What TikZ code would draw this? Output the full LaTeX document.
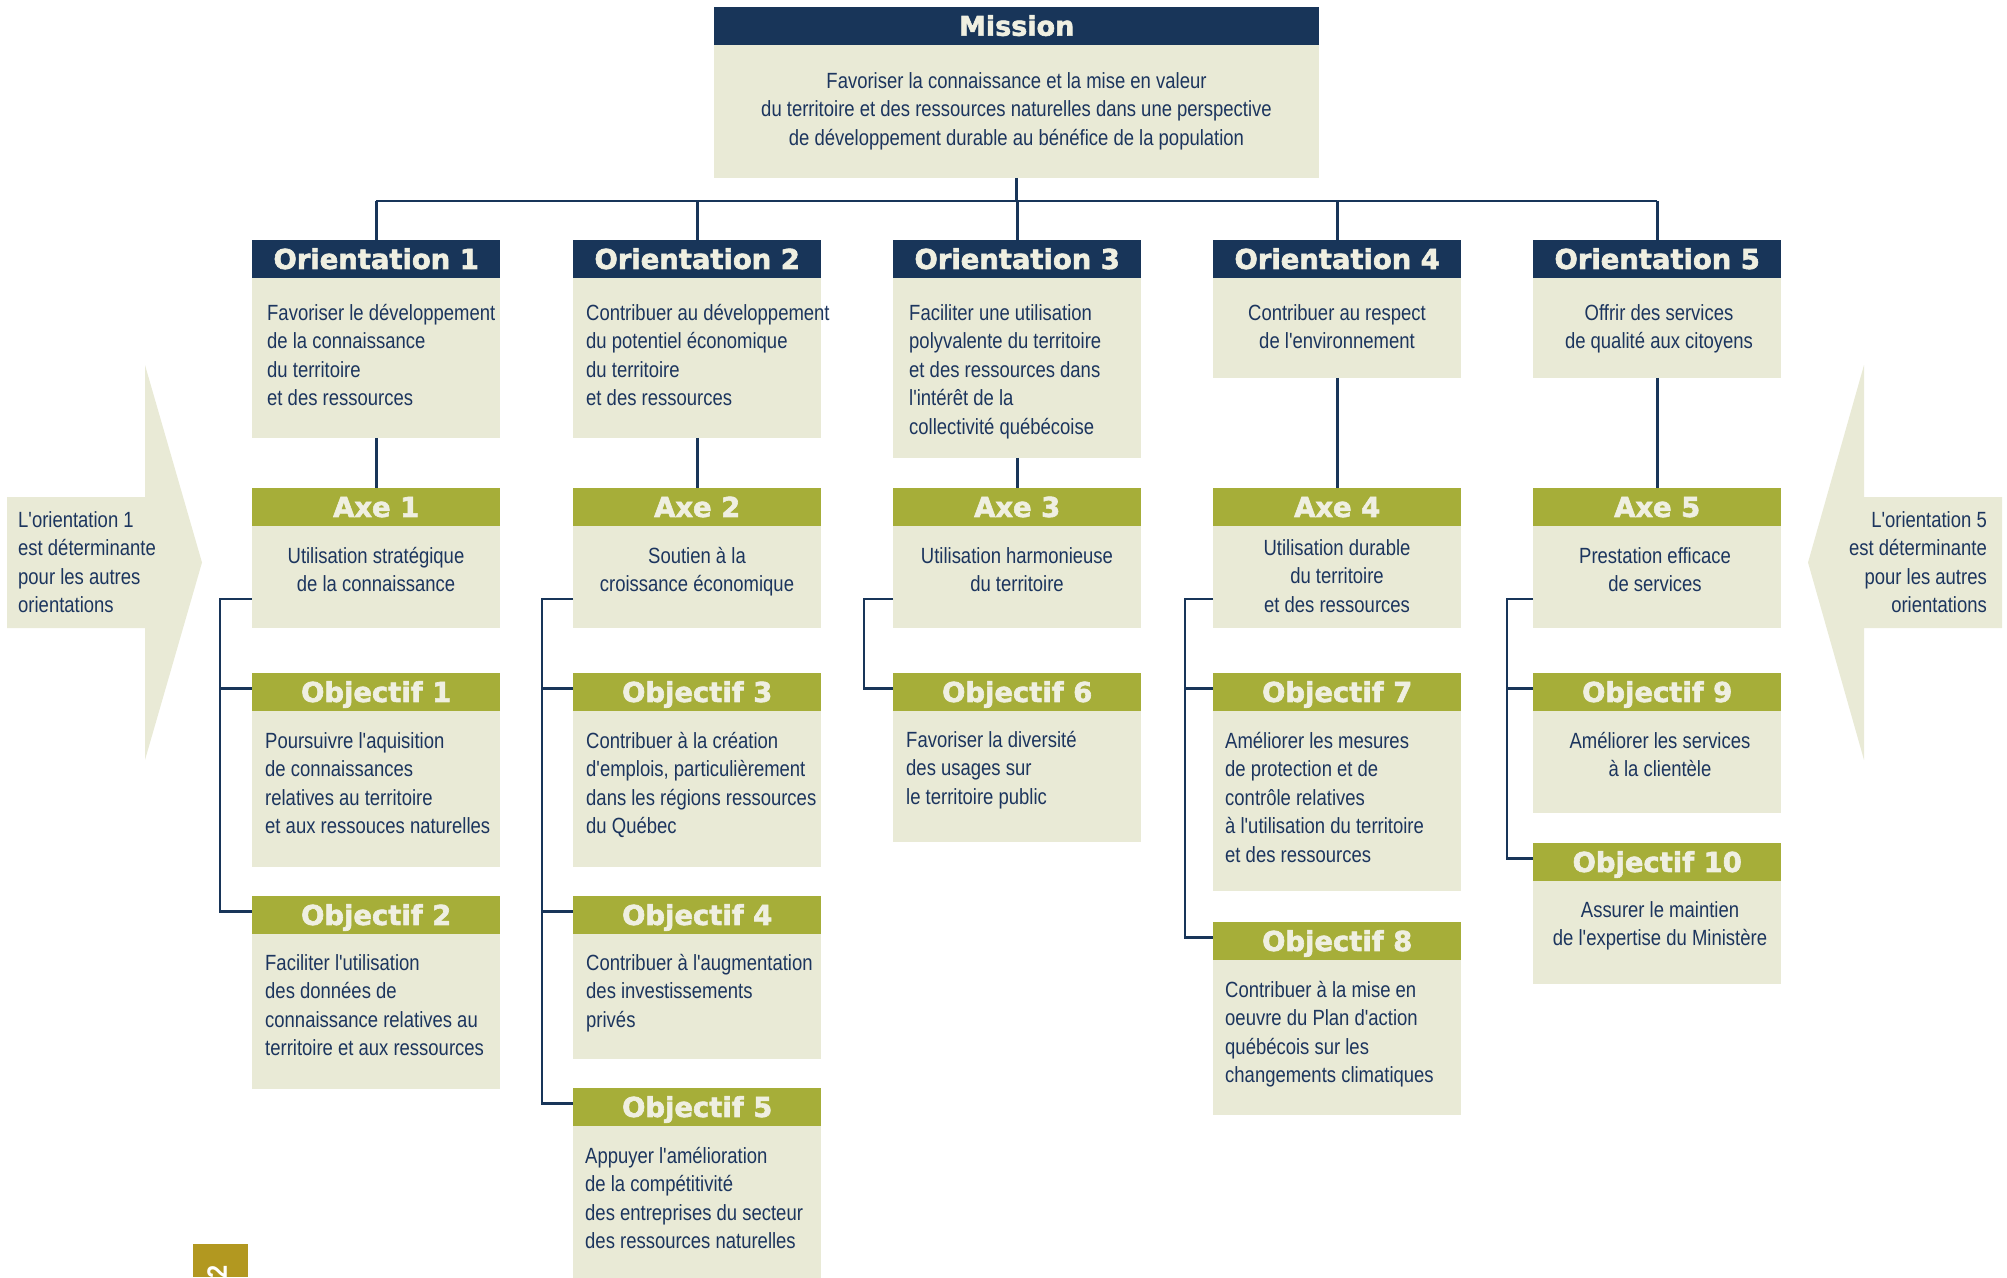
\documentclass[tikz,border=0pt]{standalone}
\usepackage{fontspec}
\newfontfamily\bodyfont{Liberation Sans}[FakeStretch=0.84]
\newfontfamily\headfont{DejaVu Sans}[BoldFeatures={FakeBold=2.2}]
\usetikzlibrary{calc}
\definecolor{navy}{HTML}{183559}
\definecolor{olive}{HTML}{A6AE39}
\definecolor{cream}{HTML}{E9EAD6}
\definecolor{ink}{HTML}{1C355E}
\definecolor{headtxt}{HTML}{EFEFE1}
\definecolor{gold}{HTML}{B29820}
\newcommand\mkcard[6]{%
  \node[hdr, fill=#5] (#1h) at (#2,#3) {#6};
  \node[bodybox, minimum height=#4] (#1b) at (#2,#3+37.5) {};
}
\begin{document}
\begin{tikzpicture}[x=1pt,y=-1pt,
  hdr/.style={rectangle, inner sep=0pt, minimum width=248pt, minimum height=37.5pt, anchor=north west, text=headtxt, text height=20pt, text depth=0pt, font=\headfont\bfseries\fontsize{27.4}{30}\selectfont},
  bodybox/.style={rectangle, inner sep=0pt, minimum width=248pt, anchor=north west, fill=cream},
  tl/.style={inner sep=0pt, anchor=base west, align=left, text=ink, font=\bodyfont\fontsize{22}{28.5}\selectfont},
  tc/.style={tl, anchor=base, align=center},
  tr/.style={tl, anchor=base east, align=right},
  conn/.style={draw=navy, line width=2.7pt},
]
\useasboundingbox (0,0) rectangle (2007,1277);

% side arrows (text nodes are anchored at the baseline of their last line)
\fill[cream] (7,497) -- (145,497) -- (145,365) -- (202,562.5) -- (145,760) -- (145,628) -- (7,628) -- cycle;
\fill[cream] (2002,497) -- (1864,497) -- (1864,365) -- (1808,562.5) -- (1864,760) -- (1864,628) -- (2002,628) -- cycle;
\node[tl] (la) at (18,612.5) {L'orientation 1\\est déterminante\\pour les autres\\orientations};
\node[tr] (ra) at (1987,612.5) {L'orientation 5\\est déterminante\\pour les autres\\orientations};

% mission
\node[hdr, fill=navy, minimum width=605pt, text height=19.5pt, font=\headfont\bfseries\fontsize{27}{30}\selectfont] (mh) at (714,7) {Mission};
\node[bodybox, minimum width=605pt, minimum height=133pt] (mb) at (714,44.5) {};
\node[tc] (mt) at (1016.5,145) {Favoriser la connaissance et la mise en valeur\\du territoire et des ressources naturelles dans une perspective\\de développement durable au bénéfice de la population};

% orientations
\mkcard{o1}{252}{240}{160}{navy}{Orientation 1}
\mkcard{o2}{573}{240}{160}{navy}{Orientation 2}
\mkcard{o3}{893}{240}{180}{navy}{Orientation 3}
\mkcard{o4}{1213}{240}{100}{navy}{Orientation 4}
\mkcard{o5}{1533}{240}{100}{navy}{Orientation 5}
\node[tl] (o1t) at (267,405.5) {Favoriser le développement\\de la connaissance\\du territoire\\et des ressources};
\node[tl] (o2t) at (586,405.5) {Contribuer au développement\\du potentiel économique\\du territoire\\et des ressources};
\node[tl] (o3t) at (909,434) {Faciliter une utilisation\\polyvalente du territoire\\et des ressources dans\\l'intérêt de la\\collectivité québécoise};
\node[tc] (o4t) at (1337,348.5) {Contribuer au respect\\de l'environnement};
\node[tc] (o5t) at (1659,348.5) {Offrir des services\\de qualité aux citoyens};

% axes
\mkcard{a1}{252}{488}{102}{olive}{Axe 1}
\mkcard{a2}{573}{488}{102}{olive}{Axe 2}
\mkcard{a3}{893}{488}{102}{olive}{Axe 3}
\mkcard{a4}{1213}{488}{102}{olive}{Axe 4}
\mkcard{a5}{1533}{488}{102}{olive}{Axe 5}
\node[tc] (a1t) at (376,591.5) {Utilisation stratégique\\de la connaissance};
\node[tc] (a2t) at (697,591.5) {Soutien à la\\croissance économique};
\node[tc] (a3t) at (1017,591.5) {Utilisation harmonieuse\\du territoire};
\node[tc] (a4t) at (1337,612) {Utilisation durable\\du territoire\\et des ressources};
\node[tc] (a5t) at (1655,591.5) {Prestation efficace\\de services};

% objectifs
\mkcard{g1}{252}{673}{156}{olive}{Objectif 1}
\mkcard{g2}{252}{896}{155}{olive}{Objectif 2}
\mkcard{g3}{573}{673}{156}{olive}{Objectif 3}
\mkcard{g4}{573}{896}{125}{olive}{Objectif 4}
\mkcard{g5}{573}{1088}{152}{olive}{Objectif 5}
\mkcard{g6}{893}{673}{131}{olive}{Objectif 6}
\mkcard{g7}{1213}{673}{180}{olive}{Objectif 7}
\mkcard{g8}{1213}{922}{155}{olive}{Objectif 8}
\mkcard{g9}{1533}{673}{102}{olive}{Objectif 9}
\mkcard{g10}{1533}{843}{103}{olive}{Objectif 10}
\node[tl] (g1t) at (265,833.5) {Poursuivre l'aquisition\\de connaissances\\relatives au territoire\\et aux ressouces naturelles};
\node[tl] (g2t) at (265,1055.5) {Faciliter l'utilisation\\des données de\\connaissance relatives au\\territoire et aux ressources};
\node[tl] (g3t) at (586,833.5) {Contribuer à la création\\d'emplois, particulièrement\\dans les régions ressources\\du Québec};
\node[tl] (g4t) at (586,1027) {Contribuer à l'augmentation\\des investissements\\privés};
\node[tl] (g5t) at (585,1248.5) {Appuyer l'amélioration\\de la compétitivité\\des entreprises du secteur\\des ressources naturelles};
\node[tl] (g6t) at (906,804) {Favoriser la diversité\\des usages sur\\le territoire public};
\node[tl] (g7t) at (1225,862) {Améliorer les mesures\\de protection et de\\contrôle relatives\\à l'utilisation du territoire\\et des ressources};
\node[tl] (g8t) at (1225,1082.5) {Contribuer à la mise en\\oeuvre du Plan d'action\\québécois sur les\\changements climatiques};
\node[tc] (g9t) at (1660,776.5) {Améliorer les services\\à la clientèle};
\node[tc] (g10t) at (1660,945.5) {Assurer le maintien\\de l'expertise du Ministère};

% connectors: mission to orientations
\coordinate (bus) at (0,201);
\draw[conn] (mb.south) -- (mb.south |- bus);
\draw[conn] (o1h.north |- bus) -- (o5h.north |- bus);
\foreach \i in {1,...,5} {
  \draw[conn] (o\i h.north |- bus) -- (o\i h.north);
  \draw[conn] (o\i b.south) -- (a\i h.north);
}

% brackets axes -> objectifs
\coordinate (k1) at (220,599);
\coordinate (k2) at (542,599);
\coordinate (k3) at (864,599);
\coordinate (k4) at (1185,599);
\coordinate (k5) at (1507,599);
\foreach \g in {1,...,10} {
  \coordinate (j\g) at ($(g\g h.north west)+(0,15.5)$);
}
\draw[conn] (a1b.west |- k1) -- (k1) |- (j2);
\draw[conn] (k1 |- j1) -- (j1);
\draw[conn] (a2b.west |- k2) -- (k2) |- (j5);
\draw[conn] (k2 |- j3) -- (j3);
\draw[conn] (k2 |- j4) -- (j4);
\draw[conn] (a3b.west |- k3) -- (k3) |- (j6);
\draw[conn] (a4b.west |- k4) -- (k4) |- (j8);
\draw[conn] (k4 |- j7) -- (j7);
\draw[conn] (a5b.west |- k5) -- (k5) |- (j10);
\draw[conn] (k5 |- j9) -- (j9);

% page number
\fill[gold] (193,1244) rectangle (248,1277);
\begin{scope}
\clip (193,1244) rectangle (248,1277);
\node[rotate=90, inner sep=0pt, text=white, font=\bodyfont\bfseries\fontsize{28}{28}\selectfont] (pg) at (217,1272) {2};
\end{scope}
\end{tikzpicture}
\end{document}
